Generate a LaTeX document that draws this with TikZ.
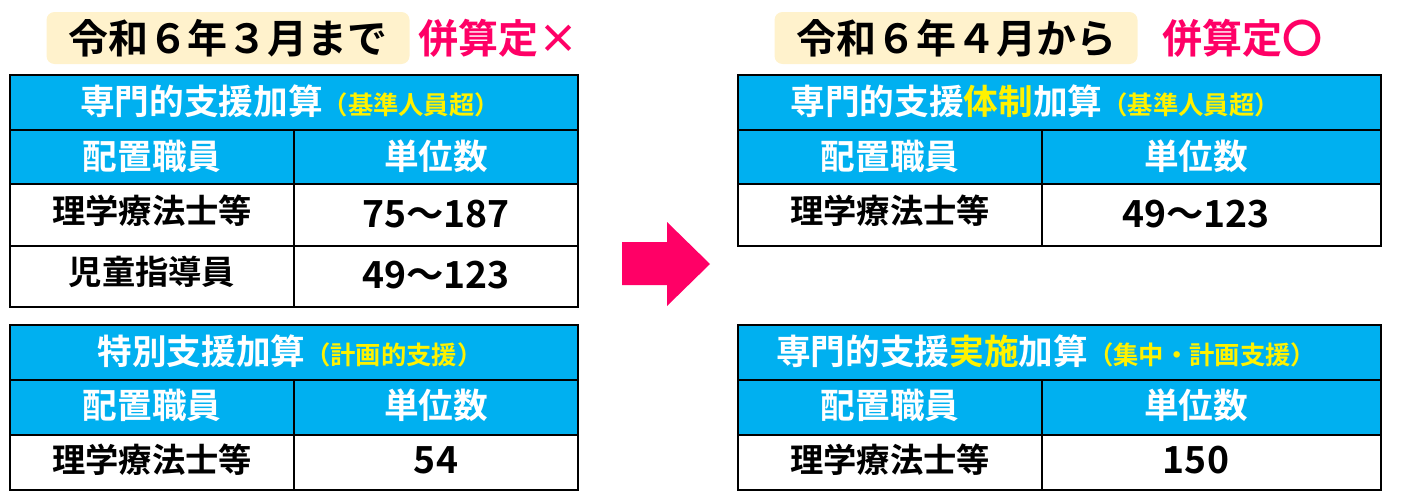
\documentclass[tikz,border=0pt]{standalone}
\usepackage{fontspec}
\setmainfont{Noto Sans CJK JP}[BoldFont={Noto Sans CJK JP Bold}]
\begin{document}
\begin{tikzpicture}[x=0.75pt,y=-0.75pt,
  hdr/.style={fill={rgb,255:red,0;green,176;blue,240},draw=black,line width=0.8pt},
  cell/.style={fill=white,draw=black,line width=0.8pt},
  ht/.style={text=white,font=\bfseries\fontsize{26}{30}\selectfont},
  ct/.style={text=black,font=\bfseries\fontsize{25}{30}\selectfont},
  nt/.style={text=black,font=\bfseries\fontsize{28}{32}\selectfont},
  ttl/.style={font=\bfseries\fontsize{30}{34}\selectfont}]
\definecolor{pk}{RGB}{255,0,102}
\definecolor{yb}{RGB}{255,242,204}
\newcommand{\subt}[1]{\textcolor{yellow}{\fontsize{19}{22}\selectfont #1}}
\useasboundingbox (0,0) rectangle (1404,496);
% titles
\node[fill=yb,rounded corners=6pt,minimum width=363*0.75pt,minimum height=52*0.75pt,ttl] (tl) at (228,38) {令和６年３月まで};
\node[text=pk,ttl,anchor=west] (pl) at (414,38) {併算定×};
\node[fill=yb,rounded corners=6pt,minimum width=363*0.75pt,minimum height=52*0.75pt,ttl] (tr) at (956,38) {令和６年４月から};
\node[text=pk,ttl,anchor=west] (pr) at (1158,38) {併算定〇};
% arrow
\fill[pk] (622,242) -- (667,242) -- (667,222) -- (710,264) -- (667,306) -- (667,285) -- (622,285) -- cycle;
% left table 1
\draw[hdr] (10,75) rectangle (578,130);
\draw[hdr] (10,130) rectangle (294,184); \draw[hdr] (294,130) rectangle (578,184);
\draw[cell] (10,184) rectangle (294,246); \draw[cell] (294,184) rectangle (578,246);
\draw[cell] (10,246) rectangle (294,307); \draw[cell] (294,246) rectangle (578,307);
\node[ht] (a1) at (290,101) {専門的支援加算\subt{（基準人員超）}};
\node[ht] (a2) at (152,156) {配置職員};
\node[ht] (a3) at (436,156) {単位数};
\node[ct] (a4) at (152,211) {理学療法士等};
\node[nt] (a5) at (436,214) {75〜187};
\node[ct] (a6) at (152,272) {児童指導員};
\node[nt] (a7) at (436,275) {49〜123};
% left table 2
\draw[hdr] (10,325) rectangle (578,380);
\draw[hdr] (10,380) rectangle (294,435); \draw[hdr] (294,380) rectangle (578,435);
\draw[cell] (10,435) rectangle (294,490); \draw[cell] (294,435) rectangle (578,490);
\node[ht] (b1) at (290,351) {特別支援加算\subt{（計画的支援）}};
\node[ht] (b2) at (152,405) {配置職員};
\node[ht] (b3) at (436,405) {単位数};
\node[ct] (b4) at (152,460) {理学療法士等};
\node[nt] (b5) at (436,460) {54};
% right table 1
\draw[hdr] (738,75) rectangle (1381,130);
\draw[hdr] (738,130) rectangle (1042,184); \draw[hdr] (1042,130) rectangle (1381,184);
\draw[cell] (738,184) rectangle (1042,246); \draw[cell] (1042,184) rectangle (1381,246);
\node[ht] (c1) at (1035,101) {専門的支援\textcolor{yellow}{体制}加算\subt{（基準人員超）}};
\node[ht] (c2) at (890,156) {配置職員};
\node[ht] (c3) at (1196,156) {単位数};
\node[ct] (c4) at (890,211) {理学療法士等};
\node[nt] (c5) at (1196,214) {49〜123};
% right table 2
\draw[hdr] (738,325) rectangle (1381,380);
\draw[hdr] (738,380) rectangle (1042,435); \draw[hdr] (1042,380) rectangle (1381,435);
\draw[cell] (738,435) rectangle (1042,490); \draw[cell] (1042,435) rectangle (1381,490);
\node[ht] (d1) at (1046,351) {専門的支援\textcolor{yellow}{実施}加算\subt{（集中・計画支援）}};
\node[ht] (d2) at (890,405) {配置職員};
\node[ht] (d3) at (1196,405) {単位数};
\node[ct] (d4) at (890,460) {理学療法士等};
\node[nt] (d5) at (1196,460) {150};
\end{tikzpicture}
\end{document}
